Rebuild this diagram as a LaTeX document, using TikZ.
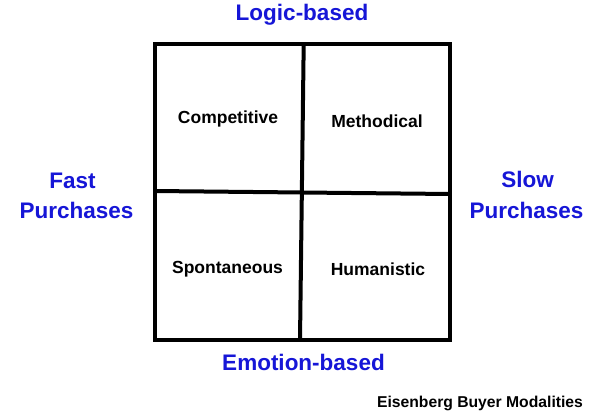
\documentclass[tikz,border=0pt]{standalone}
\usepackage{fontspec}
\setmainfont{Liberation Sans}
\definecolor{axisblue}{RGB}{22,22,215}
\begin{document}
\begin{tikzpicture}[x=1pt,y=-1pt,
  frame/.style={line width=4pt,black},
  axislabel/.style={font=\fontsize{22.5}{27}\selectfont\bfseries,text=axisblue,inner sep=0pt,anchor=base},
  quadlabel/.style={font=\fontsize{17.5}{21}\selectfont\bfseries,inner sep=0pt,anchor=base},
  caption/.style={font=\fontsize{15.7}{19}\selectfont\bfseries,inner sep=0pt,anchor=base}]
\useasboundingbox (0,0) rectangle (600,420);
\fill[white] (0,0) rectangle (600,420);
% corners of grid
\coordinate (tl) at (154.7,44);
\coordinate (tr) at (450,44);
\coordinate (bl) at (154.7,340);
\coordinate (br) at (450,340);
\coordinate (vt) at (303.7,44);
\coordinate (vb) at (300,340);
\coordinate (hl) at (154.7,191);
\coordinate (hr) at (450,194);
\draw[frame,line join=miter] (tl) -- (tr) -- (br) -- (bl) -- cycle;
\draw[frame] (vt) -- (vb);
\draw[frame] (hl) -- (hr);
% quadrant labels
\node[quadlabel] (comp) at (228,123) {Competitive};
\node[quadlabel] (meth) at (377,127) {Methodical};
\node[quadlabel] (spon) at (227.5,273) {Spontaneous};
\node[quadlabel] (huma) at (378,275) {Humanistic};
% axis labels
\node[axislabel] (logic) at (302,21) {Logic-based};
\node[axislabel] (emot) at (303.5,370) {Emotion-based};
\node[axislabel] (fast1) at (72.5,188) {Fast};
\node[axislabel] (fast2) at (76.5,218) {Purchases};
\node[axislabel] (slow1) at (527.5,187) {Slow};
\node[axislabel] (slow2) at (526.5,218) {Purchases};
% caption
\node[caption] (cap) at (480,407) {Eisenberg Buyer Modalities};
\end{tikzpicture}
\end{document}
